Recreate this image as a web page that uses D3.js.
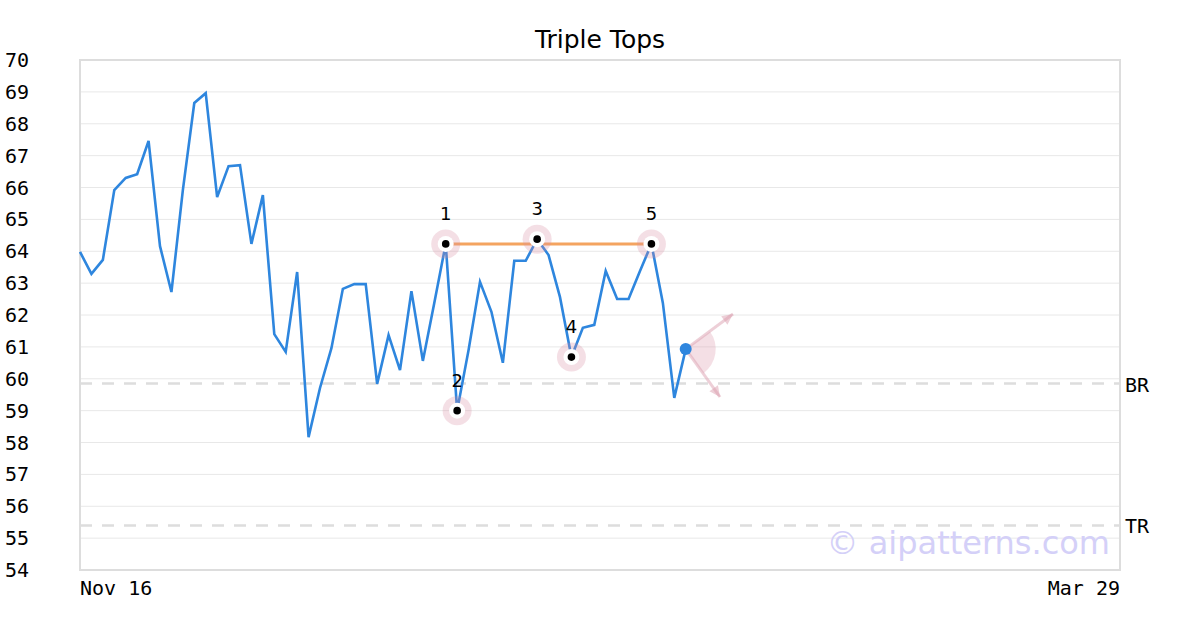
<!DOCTYPE html><html><head><meta charset="utf-8"><script src="https://cdn.jsdelivr.net/npm/d3@7"></script>
<style>body{margin:0;background:#fff}</style></head><body><svg id="c" width="1200" height="630"></svg><script>
const prices=[63.98,63.29,63.73,65.92,66.3,66.42,67.46,64.16,62.72,65.92,68.65,68.96,65.7,66.67,66.7,64.23,65.76,61.4,60.84,63.35,58.17,59.71,60.96,62.82,62.97,62.97,59.84,61.37,60.27,62.75,60.56,62.38,64.23,59.0,60.9,63.04,62.1,60.5,63.7,63.7,64.38,63.88,62.56,60.68,61.6,61.69,63.38,62.5,62.5,63.38,64.23,62.38,59.4,60.93];
const pivotIdx=[32,33,40,43,50];
const pivotLabels=["1","2","3","4","5"];
const levels=[{name:"BR",v:59.85},{name:"TR",v:55.4}];
const yTicks=d3.range(54,71);
const xLabels=["Nov 16","Mar 29"];
const totalDays=91;
const svg=d3.select("#c");
const L=80,R=1120,T=60,B=570;
const x=d3.scaleLinear().domain([0,totalDays]).range([L,R]);
const y=d3.scaleLinear().domain([54,70]).range([B,T]);
svg.append("text").attr("x",600).attr("y",48).attr("text-anchor","middle").attr("font-family","DejaVu Sans").attr("font-size",25).text("Triple Tops");
svg.selectAll(".g").data(yTicks).join("line").attr("x1",L).attr("x2",R).attr("y1",d=>y(d)).attr("y2",d=>y(d)).attr("stroke","#e8e8e8").attr("stroke-width",1);
svg.selectAll(".yt").data(yTicks).join("text").attr("x",5).attr("y",d=>y(d)+7).attr("font-family","DejaVu Sans Mono").attr("font-size",20).text(d=>d);
svg.append("rect").attr("x",L).attr("y",T).attr("width",R-L).attr("height",B-T).attr("fill","none").attr("stroke","#ddd").attr("stroke-width",2);
levels.forEach(l=>{svg.append("line").attr("x1",L).attr("x2",R).attr("y1",y(l.v)).attr("y2",y(l.v)).attr("stroke","#ddd").attr("stroke-width",2.5).attr("stroke-dasharray","12,10");
svg.append("text").attr("x",1125).attr("y",y(l.v)+8).attr("font-family","DejaVu Sans Mono").attr("font-size",20).text(l.name);});
svg.append("text").attr("x",1110).attr("y",554).attr("text-anchor","end").attr("font-family","DejaVu Sans").attr("font-size",32).attr("fill","#d4d0f8").text("© aipatterns.com");
svg.append("text").attr("x",L).attr("y",595).attr("font-family","DejaVu Sans Mono").attr("font-size",20).text(xLabels[0]);
svg.append("text").attr("x",R).attr("y",595).attr("text-anchor","end").attr("font-family","DejaVu Sans Mono").attr("font-size",20).text(xLabels[1]);
svg.append("line").attr("x1",x(pivotIdx[0])).attr("x2",x(pivotIdx[4])).attr("y1",y(prices[pivotIdx[0]])).attr("y2",y(prices[pivotIdx[4]])).attr("stroke","#f4a460").attr("stroke-width",3);
svg.append("path").datum(prices).attr("d",d3.line().x((d,i)=>x(i)).y(d=>y(d))).attr("fill","none").attr("stroke","#2e86de").attr("stroke-width",2.6);
pivotIdx.forEach((p,k)=>{const cx=x(p),cy=y(prices[p]);
svg.append("circle").attr("cx",cx).attr("cy",cy).attr("r",14.5).attr("fill","rgba(215,140,160,0.28)");
svg.append("circle").attr("cx",cx).attr("cy",cy).attr("r",8).attr("fill","#fff");
svg.append("circle").attr("cx",cx).attr("cy",cy).attr("r",3.8).attr("fill","#000");
svg.append("text").attr("x",cx).attr("y",cy-24).attr("text-anchor","middle").attr("font-family","DejaVu Sans").attr("font-size",18).text(pivotLabels[k]);});
const li=prices.length-1,ex=x(li),ey=y(prices[li]);
const col="rgba(220,160,175,0.5)";
svg.append("path").attr("d",d3.arc().innerRadius(0).outerRadius(30).startAngle(Math.PI*0.3).endAngle(Math.PI*0.8)()).attr("transform",`translate(${ex},${ey})`).attr("fill","rgba(220,150,170,0.3)");
[[733,314],[720,397]].forEach(([tx,ty])=>{svg.append("line").attr("x1",ex).attr("y1",ey).attr("x2",tx).attr("y2",ty).attr("stroke",col).attr("stroke-width",3);
const a=Math.atan2(ty-ey,tx-ex),s=12;svg.append("path").attr("d",`M${tx},${ty}L${tx-s*Math.cos(a-0.45)},${ty-s*Math.sin(a-0.45)}L${tx-s*Math.cos(a+0.45)},${ty-s*Math.sin(a+0.45)}Z`).attr("fill",col);});
svg.append("circle").attr("cx",ex).attr("cy",ey).attr("r",6).attr("fill","#2e86de");
</script></body></html>
